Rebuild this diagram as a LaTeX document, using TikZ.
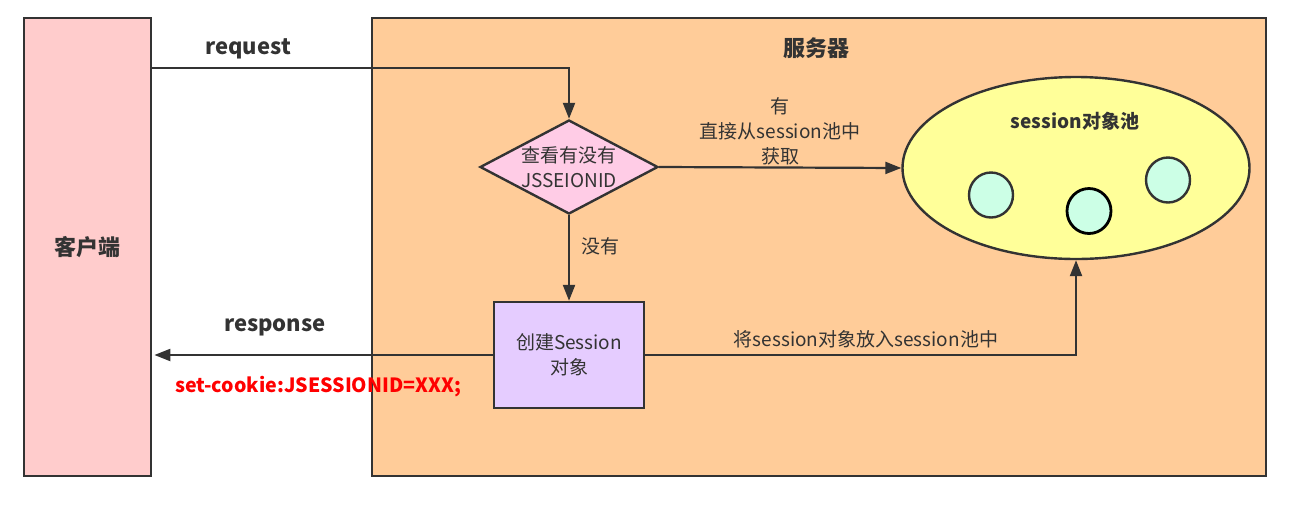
\documentclass[tikz,border=0pt]{standalone}
\usepackage{fontspec}
\setmainfont{Noto Sans CJK SC}
\usepackage{tikz}
\usetikzlibrary{shapes.geometric, arrows.meta}
\definecolor{linegray}{HTML}{333333}
\definecolor{clientpink}{HTML}{FFCCCC}
\definecolor{serverorange}{HTML}{FFCC99}
\definecolor{checkpink}{HTML}{FFCCE6}
\definecolor{poolyellow}{HTML}{FFFF99}
\definecolor{objgreen}{HTML}{CCFFE6}
\definecolor{createviolet}{HTML}{E5CCFF}
\tikzstyle{arrow} = [-{Triangle[length=16pt,width=12pt]},line width=2.2pt,draw=linegray]
\tikzstyle{box} = [draw=linegray,line width=2.4pt,inner sep=0pt]
\tikzstyle{normal} = [text=linegray,font=\fontsize{19}{25}\selectfont,align=center,inner sep=0pt]
\tikzstyle{heading} = [text=linegray,font=\fontsize{22}{26}\selectfont\bfseries,inner sep=0pt]
\tikzstyle{obj} = [box,ellipse,fill=objgreen,minimum width=44pt,minimum height=45pt]

\begin{document}
\begin{tikzpicture}[x=1pt,y=-1pt]
      \useasboundingbox (0,0) rectangle (1290,515);
      % client and server
      \node[box,fill=clientpink,anchor=north west,minimum width=127pt,minimum height=458pt](client) at (23,17){};
      \node[heading] at (client.center){客户端};
      \node[box,fill=serverorange,anchor=north west,minimum width=894pt,minimum height=458pt](server) at (371,17){};
      \node[heading](title) at (816,48){服务器};
      % flow
      \node[box,diamond,fill=checkpink,minimum width=178pt,minimum height=94pt](check) at (569,167){};
      \node[normal] at (check.center){查看有没有\\JSSEIONID};
      \node[box,rectangle,fill=createviolet,minimum width=150pt,minimum height=106pt](create) at (569,355){};
      \node[normal] at (create.center){创建Session\\对象};
      \node[box,ellipse,fill=poolyellow,minimum width=347pt,minimum height=182pt](pool) at (1076,168){};
      \node[heading,font=\fontsize{19}{25}\selectfont\bfseries](pooltitle) at (1075,121){session对象池};
      \node[obj](obj1) at (991,195){};
      \node[obj,draw=black,line width=2.8pt](obj2) at (1089,211){};
      \node[obj](obj3) at (1168,180){};
      % arrows
      \coordinate (req) at (150,68);
      \draw[arrow](req)-|(check.north);
      \node[heading](reqlabel) at (248,49){request};
      \draw[arrow](check.east)--(pool.west);
      \node[normal](haslabel) at (780,131){有\\直接从session池中\\获取};
      \draw[arrow](check.south)--(create.north);
      \node[normal](nolabel) at (600,246){没有};
      \draw[arrow](create.west)--([xshift=2pt]create.west-|client.east);
      \node[heading](resplabel) at (275,327){response};
      \node[heading,text=red,font=\fontsize{19.6}{25}\selectfont\bfseries](cookie) at (318,387){set-cookie:JSESSIONID=XXX;};
      \draw[arrow](create.east)-|(pool.south);
      \node[normal](putlabel) at (866,339){将session对象放入session池中};
\end{tikzpicture}
\end{document}
